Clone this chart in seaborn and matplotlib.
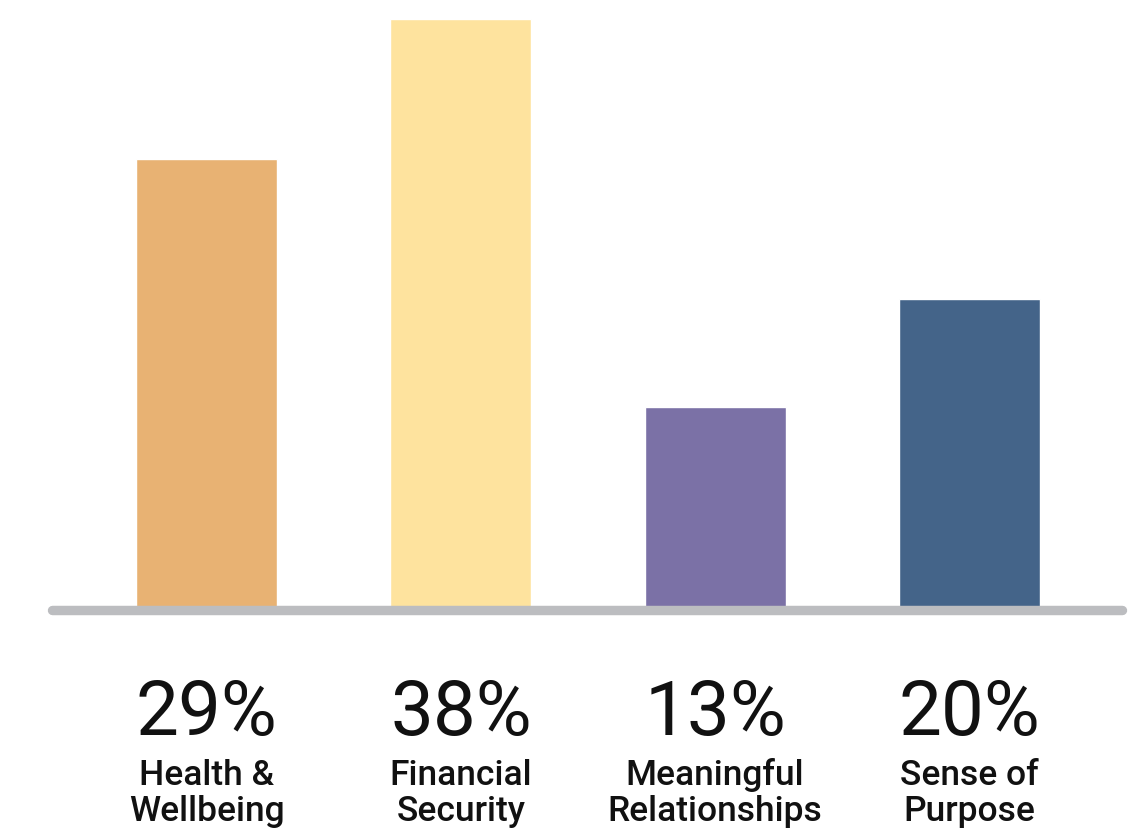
import matplotlib
matplotlib.use("Agg")
import matplotlib.pyplot as plt
import matplotlib.transforms as mtransforms
import seaborn as sns
import pandas as pd

categories = ["Health &\nWellbeing", "Financial\nSecurity", "Meaningful\nRelationships", "Sense of\nPurpose"]
values = [29, 38, 13, 20]
value_labels = ["29%", "38%", "13%", "20%"]
colors = ["#e8b273", "#fee39e", "#7b71a6", "#446489"]

sns.set_theme(style="white")
plt.rcParams["font.family"] = ["Roboto", "DejaVu Sans"]

df = pd.DataFrame({"category": categories, "value": values})

W, H = 1137, 830
fig = plt.figure(figsize=(W / 100, H / 100), dpi=100)
ax = fig.add_axes([51.5 / W, (H - 609.5) / H, 1070 / W, 590.5 / H])

sns.barplot(data=df, x="category", y="value", hue="category", palette=colors,
            width=0.555, saturation=1, legend=False, ax=ax)

ax.set_xlim(-0.610, 3.598)
ax.set_ylim(0, max(values))
ax.axhline(0, color="#bcbdc0", lw=6.8, solid_capstyle="round", zorder=5, clip_on=False)

ax.set_axis_off()

trans = mtransforms.blended_transform_factory(ax.transData, fig.transFigure)
for i, (lab, pct) in enumerate(zip(categories, value_labels)):
    ax.text(i, (H - 735) / H, pct, transform=trans, ha="center", va="baseline",
            fontsize=55, color="#111111", fontweight="normal")
    for j, line in enumerate(lab.split("\n")):
        ax.text(i, (H - 785 - 36 * j) / H, line, transform=trans, ha="center",
                va="baseline", fontsize=25.5, color="#111111", fontweight="medium")

fig.savefig("out.png", dpi=100)
